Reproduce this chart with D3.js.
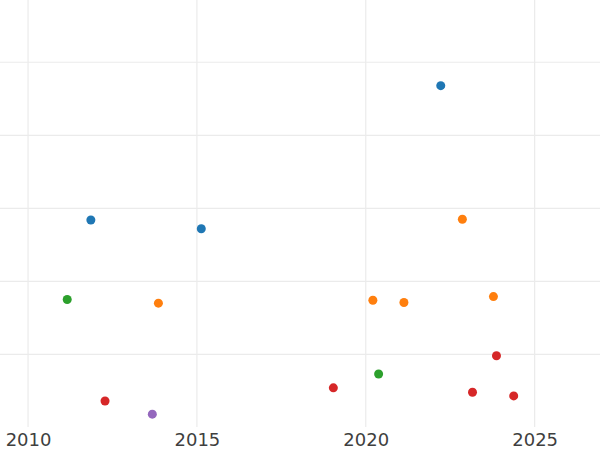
<!DOCTYPE html>
<html>
<head>
<meta charset="utf-8">
<script src="https://cdn.jsdelivr.net/npm/d3@7"></script>
<style>
  html, body { margin: 0; padding: 0; background: #fff; }
  svg { display: block; }
</style>
</head>
<body>
<svg id="chart" width="600" height="450"></svg>
<script>
// ---- data ----
const seriesNames = ["A", "B", "C", "D", "E"];
const seriesColors = ["#1f77b4", "#ff7f0e", "#2ca02c", "#d62728", "#9467bd"];
const yearsA = [2022.22, 2011.86, 2015.13];
const valuesA = [4.68, 2.84, 2.72];
const yearsB = [2022.86, 2013.86, 2020.21, 2021.13, 2023.78];
const valuesB = [2.85, 1.70, 1.74, 1.71, 1.79];
const yearsC = [2011.16, 2020.38];
const valuesC = [1.75, 0.73];
const yearsD = [2012.28, 2019.04, 2023.87, 2023.16, 2024.38];
const valuesD = [0.36, 0.54, 0.98, 0.48, 0.43];
const yearsE = [2013.68];
const valuesE = [0.18];
const xTicks = [2010, 2015, 2020, 2025];
const yTicks = [1, 2, 3, 4, 5];

const allYears = [yearsA, yearsB, yearsC, yearsD, yearsE];
const allValues = [valuesA, valuesB, valuesC, valuesD, valuesE];
const points = [];
allYears.forEach((ys, si) => ys.forEach((yr, i) => points.push({ s: si, x: yr, y: allValues[si][i] })));

// ---- layout ----
const svg = d3.select("#chart");
const plotTop = 0, plotBottom = 427, plotLeft = 0, plotRight = 600;

const x = d3.scaleLinear().domain([2009.17, 2026.935]).range([plotLeft, plotRight]);
const y = d3.scaleLinear().domain([0.004, 5.853]).range([plotBottom, plotTop]);

// grid
const grid = svg.append("g");
grid.selectAll("line.h").data(yTicks).join("line")
  .attr("x1", plotLeft).attr("x2", plotRight)
  .attr("y1", d => y(d)).attr("y2", d => y(d))
  .attr("stroke", "#ebebeb").attr("stroke-width", 1.2);
grid.selectAll("line.v").data(xTicks).join("line")
  .attr("y1", plotTop).attr("y2", plotBottom)
  .attr("x1", d => x(d)).attr("x2", d => x(d))
  .attr("stroke", "#ebebeb").attr("stroke-width", 1.2);

// x axis labels
const xAxis = d3.axisBottom(x).tickValues(xTicks).tickFormat(d3.format("d")).tickSize(0).tickPadding(6);
const gx = svg.append("g").attr("transform", `translate(0,${plotBottom})`).call(xAxis);
gx.select(".domain").remove();
gx.selectAll("text")
  .attr("font-family", "DejaVu Sans, sans-serif")
  .attr("font-size", 18)
  .attr("fill", "#3f3f3f");

// points
svg.append("g").selectAll("circle").data(points).join("circle")
  .attr("cx", d => x(d.x))
  .attr("cy", d => y(d.y))
  .attr("r", 4.5)
  .attr("fill", d => seriesColors[d.s]);
</script>
</body>
</html>
